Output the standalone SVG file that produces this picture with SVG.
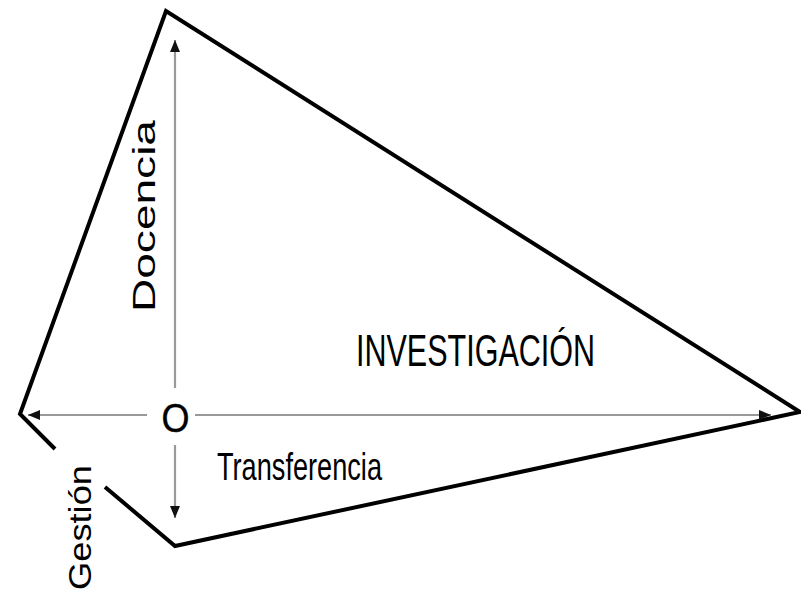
<svg xmlns="http://www.w3.org/2000/svg" width="801" height="597" viewBox="0 0 801 597">
<style>
.edge{fill:none;stroke:#000;stroke-width:4;stroke-linejoin:miter}
.axis{fill:none;stroke:#999;stroke-width:2.2}
.t{font-family:"Liberation Sans",Arial,sans-serif;fill:#000}
</style>
<defs>
<marker id="ah" viewBox="0 0 12 10" refX="12" refY="5" markerWidth="12" markerHeight="10" markerUnits="userSpaceOnUse" orient="auto">
<path d="M0,0 L12,5 L0,10 Z" fill="#111"/>
</marker>
</defs>
<rect width="801" height="597" fill="#fff"/>
<g id="shape">
<polyline class="edge" points="55,449 20,414 166,11 800,412 175,546 105,487"/>
</g>
<g id="connectors">
<line class="axis" x1="147" y1="415" x2="28" y2="415" marker-end="url(#ah)"/>
<line class="axis" x1="195" y1="415" x2="771" y2="415" marker-end="url(#ah)"/>
<line class="axis" x1="175" y1="388" x2="175" y2="40" marker-end="url(#ah)"/>
<line class="axis" x1="175" y1="445" x2="175" y2="518" marker-end="url(#ah)"/>
</g>
<g id="origin">
<text class="t" x="175.5" y="432" font-size="41" text-anchor="middle" textLength="28" lengthAdjust="spacingAndGlyphs" stroke="#000" stroke-width="0.4">O</text>
</g>
<g id="docencia">
<text class="t" transform="translate(155,312) rotate(-90)" font-size="31" textLength="192" lengthAdjust="spacingAndGlyphs">Docencia</text>
</g>
<g id="gestion">
<text class="t" transform="translate(91,590) rotate(-90)" font-size="31" textLength="125" lengthAdjust="spacingAndGlyphs">Gestión</text>
</g>
<g id="investigacion">
<text class="t" x="356" y="366" font-size="44" textLength="239" lengthAdjust="spacingAndGlyphs">INVESTIGACIÓN</text>
</g>
<g id="transferencia">
<text class="t" x="217" y="480" font-size="39" textLength="165" lengthAdjust="spacingAndGlyphs">Transferencia</text>
</g>
</svg>
